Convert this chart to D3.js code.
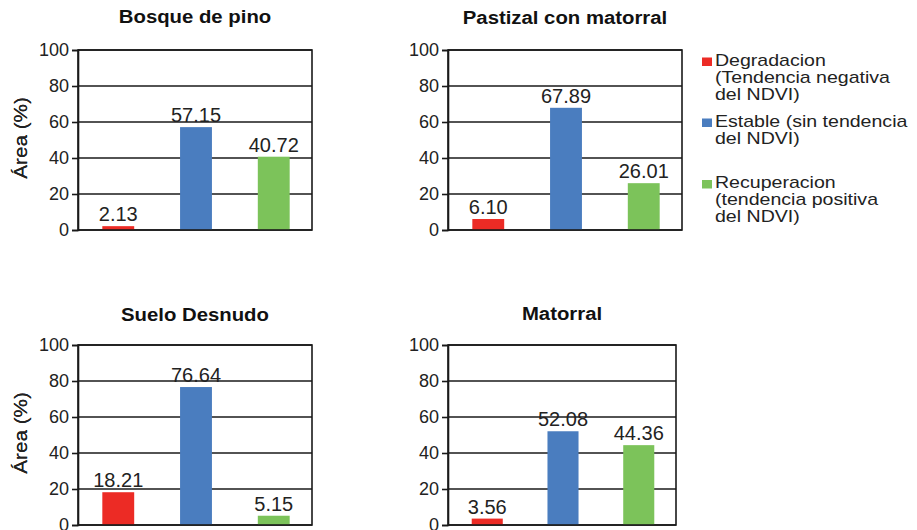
<!DOCTYPE html>
<html><head><meta charset="utf-8">
<script src="https://cdn.jsdelivr.net/npm/d3@7"></script>
<style>
html,body{margin:0;padding:0;background:#fff;}
#wrap{position:relative;width:917px;height:530px;overflow:hidden;}
svg{display:block;font-family:"Liberation Sans",Arial,Helvetica,sans-serif;}
.legtext{position:absolute;left:715px;font-family:"Liberation Sans",Arial,Helvetica,sans-serif;
  font-size:17px;line-height:17px;color:#222;white-space:nowrap;transform:scaleX(1.15);transform-origin:0 0;}
</style></head>
<body>
<div id="wrap">
<svg id="chart" width="917" height="530"></svg>
</div>
<script>
// ---- data ----
const panelTitles = ["Bosque de pino", "Pastizal con matorral", "Suelo Desnudo", "Matorral"];
const categories = ["Degradacion", "Estable", "Recuperacion"];
const degradacion = [2.13, 6.10, 18.21, 3.56];
const estable = [57.15, 67.89, 76.64, 52.08];
const recuperacion = [40.72, 26.01, 5.15, 44.36];
const yTicks = [0, 20, 40, 60, 80, 100];
const yLabel = "Área (%)";
const legendLines = [
  ["Degradacion", "(Tendencia negativa", "del NDVI)"],
  ["Estable (sin tendencia", "del NDVI)"],
  ["Recuperacion", "(tendencia positiva", "del NDVI)"]
];
const colors = ["#ec2b25", "#4a7dbf", "#7cc35a"];

// ---- layout ----
const frames = [
  {x0: 78, x1: 312, y0: 50, y1: 230, ty: 23},
  {x0: 448, x1: 682, y0: 50, y1: 230, ty: 24},
  {x0: 78, x1: 312, y0: 345, y1: 525, ty: 321},
  {x0: 448, x1: 676, y0: 345, y1: 525, ty: 320}
];

const svg = d3.select("#chart");
const fmt = d3.format(".2f");

frames.forEach((f, i) => {
  const vals = [degradacion[i], estable[i], recuperacion[i]];
  const x = d3.scaleBand().domain(categories).range([f.x0 + 1, f.x1 + 1]).paddingInner(0.59).paddingOuter(0.3);
  const y = d3.scaleLinear().domain([0, 100]).range([f.y1, f.y0]);
  const g = svg.append("g");

  // title
  g.append("text")
    .attr("transform", `translate(${(f.x0 + f.x1) / 2},${f.ty}) scale(1.13,1)`)
    .attr("text-anchor", "middle").attr("font-weight", "bold").attr("font-size", 18)
    .attr("fill", "#111").text(panelTitles[i]);

  // y label
  g.append("text")
    .attr("transform", `translate(27,${(f.y0 + f.y1) / 2 - 2}) rotate(-90) scale(1.15,1)`)
    .attr("text-anchor", "middle").attr("font-size", 18).attr("fill", "#222")
    .text(yLabel);

  // gridlines
  g.selectAll("line.grid").data(yTicks).join("line").attr("class", "grid")
    .attr("x1", f.x0).attr("x2", f.x1)
    .attr("y1", d => y(d)).attr("y2", d => y(d))
    .attr("stroke", "#1a1a1a").attr("stroke-width", 1.6);

  // bars
  g.selectAll("rect.bar").data(vals).join("rect").attr("class", "bar")
    .attr("x", (d, j) => x(categories[j])).attr("width", x.bandwidth())
    .attr("y", d => y(d)).attr("height", d => y(0) - y(d))
    .attr("fill", (d, j) => colors[j]);

  // frame
  g.append("rect").attr("x", f.x0).attr("y", f.y0)
    .attr("width", f.x1 - f.x0).attr("height", f.y1 - f.y0)
    .attr("fill", "none").attr("stroke", "#1a1a1a").attr("stroke-width", 1.6);

  // axis
  const ax = g.append("g").attr("transform", `translate(${f.x0},0)`)
    .call(d3.axisLeft(y).tickValues(yTicks).tickSize(6).tickPadding(3).tickFormat(d3.format("d")));
  ax.select(".domain").attr("stroke", "#1a1a1a").attr("stroke-width", 1.6);
  ax.selectAll(".tick line").attr("stroke", "#1a1a1a").attr("stroke-width", 1.6);
  ax.selectAll(".tick text").attr("font-size", 18).attr("fill", "#222")
    .attr("font-family", "'Liberation Sans',Arial,sans-serif");

  // value labels
  g.selectAll("text.val").data(vals).join("text").attr("class", "val")
    .attr("x", (d, j) => x(categories[j]) + x.bandwidth() / 2)
    .attr("y", d => y(d) - 5)
    .attr("text-anchor", "middle").attr("font-size", 20).attr("fill", "#222")
    .text(d => fmt(d));
});

// legend (swatches in SVG, multi-line text as one HTML block per entry)
const legendY = [66, 127, 188.5];
const wrap = d3.select("#wrap");
legendLines.forEach((lines, k) => {
  svg.append("rect").attr("x", 702).attr("y", legendY[k] - 8.5).attr("width", 10).attr("height", 8.5)
    .attr("fill", colors[k]);
  wrap.append("div").attr("class", "legtext")
    .style("top", (legendY[k] - 14.4) + "px")
    .html(lines.join("<br>"));
});
</script>
</body></html>
